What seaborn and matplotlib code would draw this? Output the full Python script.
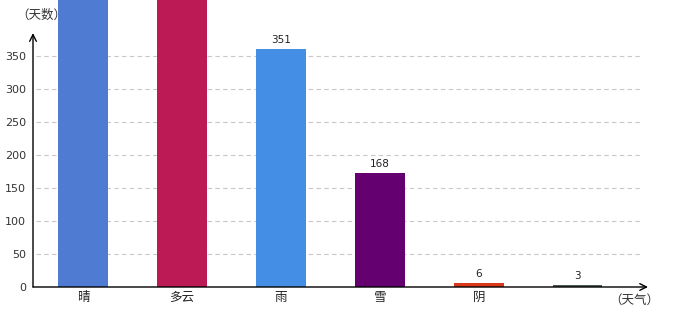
import matplotlib
matplotlib.use("Agg")
import matplotlib.pyplot as plt
import seaborn as sns
import pandas as pd

categories = ["晴", "多云", "雨", "雪", "阴", ""]
days = [480, 460, 351, 168, 6, 3]
colors = ["#4F7BD3", "#BB1A55", "#448EE6", "#650070", "#D9391A", "#4B5A52"]
yticks = [0, 50, 100, 150, 200, 250, 300, 350]

sns.set_theme(style="white")
plt.rcParams['font.family'] = ['Noto Sans CJK SC', 'DejaVu Sans']

df = pd.DataFrame({"cat": [f"c{i}" for i in range(len(categories))], "days": days})

fig = plt.figure(figsize=(6.8, 3.2), dpi=100)
ax = fig.add_axes([33/680, 33/320, (648-33)/680, 287/320])
sns.barplot(data=df, x="cat", y="days", hue="cat", palette=colors, width=0.5,
            legend=False, ax=ax, saturation=1)
for p in ax.patches:
    p.set_clip_on(False)
    p.set_linewidth(0)

ytop = 422.7
ax.set_xlim(-0.505, 5.71)
ax.set_ylim(0, ytop)
for s in ax.spines.values():
    s.set_visible(False)
# the reference's grid scale is slightly compressed relative to its bars
gscale = 0.972
ax.set_yticks([v * gscale for v in yticks])
ax.set_yticklabels([str(v) for v in yticks], fontsize=8, color="#333333", family="DejaVu Sans")
ax.set_xticks(range(len(categories)))
ax.set_xticklabels(categories, fontsize=9, color="#222222")
ax.tick_params(axis="y", length=3, width=0.8, color="black", pad=2)
ax.tick_params(axis="x", length=0, pad=3)
ax.set_xlabel("")
ax.set_ylabel("")
for v in yticks[1:]:
    ax.axhline(v * gscale, color="#c8c8c8", lw=0.8, ls=(0, (4, 3)), zorder=0, xmin=0.005, xmax=0.99)

# axes arrows
ax.annotate("", xy=(-0.505, 374), xytext=(-0.505, 0),
            arrowprops=dict(arrowstyle="->", color="black", lw=1.0, shrinkA=0, shrinkB=0),
            annotation_clip=False)
ax.annotate("", xy=(5.71, 0), xytext=(-0.505, 0),
            arrowprops=dict(arrowstyle="->", color="black", lw=1.0, shrinkA=0, shrinkB=0),
            annotation_clip=False)

for i, v in enumerate(days):
    if v < ytop - 20:
        ax.annotate(str(v), xy=(i, v), xytext=(0, 3), textcoords="offset points",
                    ha="center", va="bottom", fontsize=7.5,
                    color="#222222", family="DejaVu Sans")

fig.text(41/680, 1 - 15/320, "（天数）", ha="center", va="center", fontsize=9, color="#333333")
fig.text(634/680, 1 - 300/320, "（天气）", ha="center", va="center", fontsize=9, color="#333333")

fig.savefig("out.png", dpi=100)
